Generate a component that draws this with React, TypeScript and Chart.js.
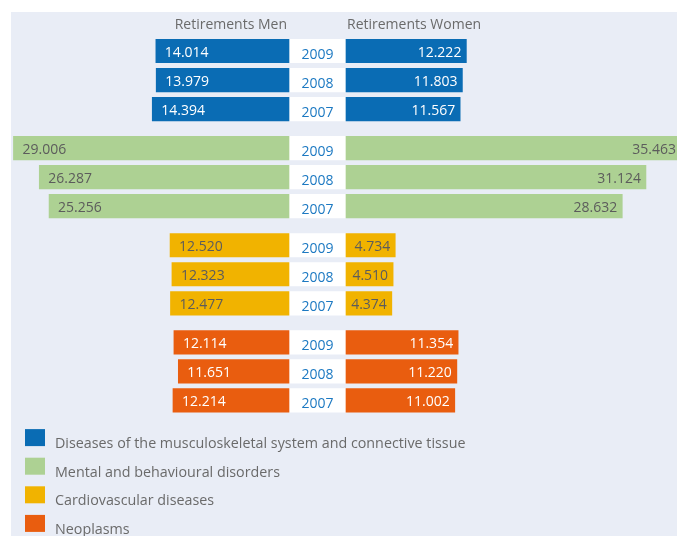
import React, { useEffect, useRef } from 'react';
import { Chart, registerables } from 'chart.js';

Chart.register(...registerables);

// ---------- data ----------
const years = ['2009', '2008', '2007'];
const categories = [
  'Diseases of the musculoskeletal system and connective tissue',
  'Mental and behavioural disorders',
  'Cardiovascular diseases',
  'Neoplasms',
];
const menMusculoskeletal = [14014, 13979, 14394];
const womenMusculoskeletal = [12222, 11803, 11567];
const menMental = [29006, 26287, 25256];
const womenMental = [35463, 31124, 28632];
const menCardio = [12520, 12323, 12477];
const womenCardio = [4734, 4510, 4374];
const menNeoplasms = [12114, 11651, 12214];
const womenNeoplasms = [11354, 11220, 11002];
const headerMen = 'Retirements Men';
const headerWomen = 'Retirements Women';

// ---------- style ----------
const colors = ['#0a6cb4', '#add193', '#f1b300', '#e95d0f'];
const valueTextColors = ['#ffffff', '#5c5c5c', '#5c5c5c', '#ffffff'];
const BG = '#e9edf6';
const TEXT_GRAY = '#6a6a6a';
const YEAR_COLOR = '#1c79c2';
const FONT = "'Open Sans', sans-serif";
const GAP = 3000; // half width of the year column, in axis units
const WOMEN_PAD = 450;
const GROUP_STEP = 3.345;
const BAR_H = 23.5;

const fmt = (n: number) => `${Math.floor(n / 1000)}.${String(n % 1000).padStart(3, '0')}`;

const bgPlugin = {
  id: 'panelBg',
  beforeDraw(chart: any) {
    const { ctx, width, height } = chart;
    ctx.save();
    ctx.fillStyle = '#ffffff';
    ctx.fillRect(0, 0, width, height);
    ctx.fillStyle = BG;
    ctx.fillRect(11, 12, width - 11, height - 12);
    ctx.restore();
  },
};

const labelPlugin = {
  id: 'butterflyLabels',
  afterDatasetsDraw(chart: any) {
    const { ctx, chartArea } = chart;
    const xs = chart.scales.x;
    const ys = chart.scales.y;
    ctx.save();
    ctx.font = `14px ${FONT}`;
    chart.data.datasets.forEach((ds: any, i: number) => {
      const meta = chart.getDatasetMeta(i);
      meta.data.forEach((el: any, j: number) => {
        const raw = ds.data[j];
        const { x, base, y } = el.getProps(['x', 'base', 'y'], true);
        const left = Math.min(x, base);
        const right = Math.max(x, base);
        if (ds.isYear) {
          ctx.fillStyle = YEAR_COLOR;
          ctx.textAlign = 'center';
          ctx.textBaseline = 'alphabetic';
          ctx.fillText(raw.year, (left + right) / 2, y + 7.5);
        } else {
          ctx.fillStyle = ds.valueColor;
          ctx.textBaseline = 'alphabetic';
          if (raw.side === 'men') {
            ctx.textAlign = 'left';
            ctx.fillText(fmt(raw.value), left + 9, y + 5.5);
          } else {
            ctx.textAlign = 'right';
            ctx.fillText(fmt(raw.value), Math.min(right - 5, chartArea.right - 1), y + 5.5);
          }
        }
      });
    });
    // headers
    const top = ys.getPixelForValue(0);
    ctx.fillStyle = TEXT_GRAY;
    ctx.textAlign = 'right';
    ctx.fillText(headerMen, xs.getPixelForValue(-GAP) - 2, top - 22.5);
    ctx.textAlign = 'left';
    ctx.fillText(headerWomen, xs.getPixelForValue(GAP) + 1, top - 22.5);
    // legend
    ctx.font = `14.3px ${FONT}`;
    const last = ys.getPixelForValue(3 * GROUP_STEP + 2);
    chart.data.datasets.forEach((ds: any) => {
      if (ds.isYear) return;
      const k = ds.order0;
      const boxTop = last + 28.7 + k * 28.6;
      ctx.fillStyle = ds.backgroundColor;
      ctx.fillRect(25, boxTop, 20, 17);
      ctx.fillStyle = TEXT_GRAY;
      ctx.textAlign = 'left';
      ctx.fillText(ds.label, 55, boxTop + 19);
    });
    ctx.restore();
  },
};

export default function App() {
  const ref = useRef<HTMLCanvasElement>(null);
  useEffect(() => {
    const men = [menMusculoskeletal, menMental, menCardio, menNeoplasms];
    const women = [womenMusculoskeletal, womenMental, womenCardio, womenNeoplasms];
    const datasets: any[] = categories.map((label, g) => ({
      label,
      order0: g,
      backgroundColor: colors[g],
      valueColor: valueTextColors[g],
      grouped: false,
      barThickness: BAR_H,
      borderWidth: 0,
      data: [
        ...years.map((_, r) => ({
          x: [-(GAP + men[g][r]), -GAP],
          y: g * GROUP_STEP + r,
          value: men[g][r],
          side: 'men',
        })),
        ...years.map((_, r) => ({
          x: [GAP, GAP + WOMEN_PAD + women[g][r]],
          y: g * GROUP_STEP + r,
          value: women[g][r],
          side: 'women',
        })),
      ],
    }));
    datasets.push({
      label: '',
      isYear: true,
      backgroundColor: '#ffffff',
      grouped: false,
      barThickness: BAR_H,
      borderWidth: 0,
      data: categories.flatMap((_, g) =>
        years.map((yr, r) => ({ x: [-GAP, GAP], y: g * GROUP_STEP + r, year: yr }))
      ),
    });

    const chart = new Chart(ref.current as HTMLCanvasElement, {
      type: 'bar',
      data: { datasets },
      options: {
        indexAxis: 'y',
        animation: false,
        responsive: true,
        maintainAspectRatio: false,
        events: [],
        layout: { padding: 0 },
        plugins: { legend: { display: false }, tooltip: { enabled: false } },
        scales: {
          x: { type: 'linear', display: false, offset: false, min: -33421, max: -33421 + 71263 },
          y: {
            type: 'linear',
            display: false,
            offset: false,
            reverse: true,
            min: -1.758,
            max: -1.758 + 18.464,
          },
        },
      } as any,
      plugins: [bgPlugin, labelPlugin],
    });
    return () => chart.destroy();
  }, []);

  return (
    <div style={{ position: 'fixed', left: 0, top: 0, width: 677, height: 536, background: '#fff' }}>
      <canvas ref={ref} />
    </div>
  );
}
